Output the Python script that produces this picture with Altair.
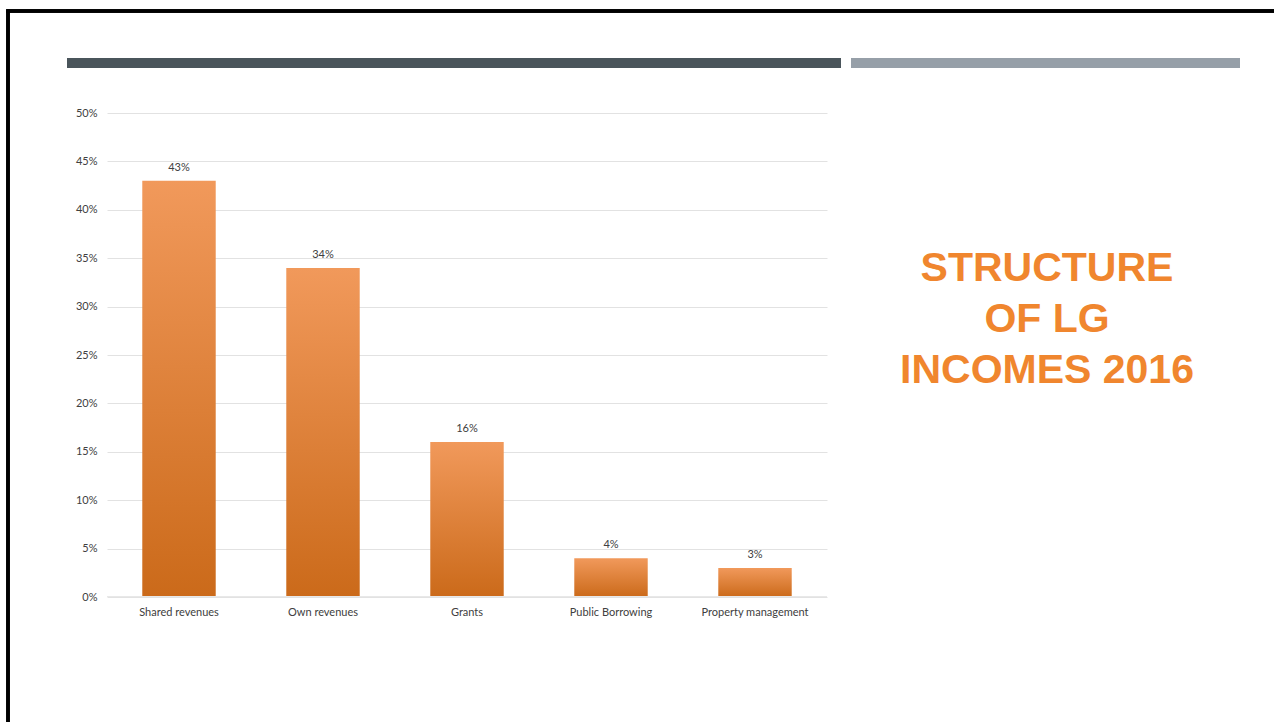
import altair as alt
import pandas as pd

categories = ["Shared revenues", "Own revenues", "Grants", "Public Borrowing", "Property management"]
shares = [0.43, 0.34, 0.16, 0.04, 0.03]
tick_values = [0, 0.05, 0.10, 0.15, 0.20, 0.25, 0.30, 0.35, 0.40, 0.45, 0.50]
title_lines = ["STRUCTURE", "OF LG", "INCOMES 2016"]

df = pd.DataFrame({"category": categories, "share": shares})

FONT = "Lato"
ORANGE = "#f0862e"

x_enc = alt.X("category:N", sort=categories, title=None,
              scale=alt.Scale(paddingInner=0.49, paddingOuter=0.245),
              axis=alt.Axis(labelAngle=0, ticks=False, domain=False, labelPadding=9,
                            labelFont=FONT, labelFontSize=11, labelColor="#404040", grid=False))
y_enc = alt.Y("share:Q", title=None,
              scale=alt.Scale(domain=[0, 0.5], nice=False),
              axis=alt.Axis(values=tick_values, format=".0%", ticks=False, domain=False,
                            labelPadding=10, labelFont=FONT, labelFontSize=11,
                            labelColor="#404040", gridColor="#e2e2e2", gridWidth=1))

bars = alt.Chart(df).mark_bar(
    color=alt.Gradient(gradient="linear",
                       stops=[alt.GradientStop(color="#f1995b", offset=0),
                              alt.GradientStop(color="#cb6a1a", offset=1)],
                       x1=0, x2=0, y1=0, y2=1)
).encode(x=x_enc, y=y_enc)

labels = alt.Chart(df).mark_text(dy=-8, font=FONT, fontSize=11, color="#404040", baseline="bottom").encode(
    x=alt.X("category:N", sort=categories), y="share:Q", text=alt.Text("share:Q", format=".0%"))

baseline = alt.Chart(df).mark_rule(color="#e8e8e8", strokeWidth=1).encode(
    x=alt.value(0), x2=alt.value(720), y=alt.value(483.5))

# slide decorations
dark_band = alt.Chart(df).mark_rule(color="#4a555b", strokeWidth=10, strokeCap="butt").encode(
    x=alt.value(-40), x2=alt.value(734), y=alt.value(-50))
gray_band = alt.Chart(df).mark_rule(color="#969fa8", strokeWidth=10, strokeCap="butt").encode(
    x=alt.value(744), x2=alt.value(1133), y=alt.value(-50))
border_left = alt.Chart(df).mark_rule(color="#000000", strokeWidth=3).encode(
    x=alt.value(-99), y=alt.value(-103.5), y2=alt.value(620))
border_top = alt.Chart(df).mark_rule(color="#000000", strokeWidth=3).encode(
    x=alt.value(-100.5), x2=alt.value(1180), y=alt.value(-102))

title_layers = []
for i, line in enumerate(title_lines):
    title_layers.append(
        alt.Chart(pd.DataFrame({"line": [line]})).mark_text(
            font="Liberation Sans", fontWeight="bold", fontSize=41,
            color=ORANGE, align="center", baseline="alphabetic"
        ).encode(x=alt.value(940), y=alt.value(168 + 51 * i), text="line:N")
    )

chart = alt.layer(bars, baseline, labels, dark_band, gray_band, border_left, border_top, *title_layers).properties(
    width=720, height=484,
    padding={"left": 107, "top": 113, "right": 447, "bottom": 125},
    autosize=alt.AutoSizeParams(type="none"),
    background="white"
).configure_view(stroke=None)

chart.save("out.html", embed_options={"renderer": "svg", "actions": False})
